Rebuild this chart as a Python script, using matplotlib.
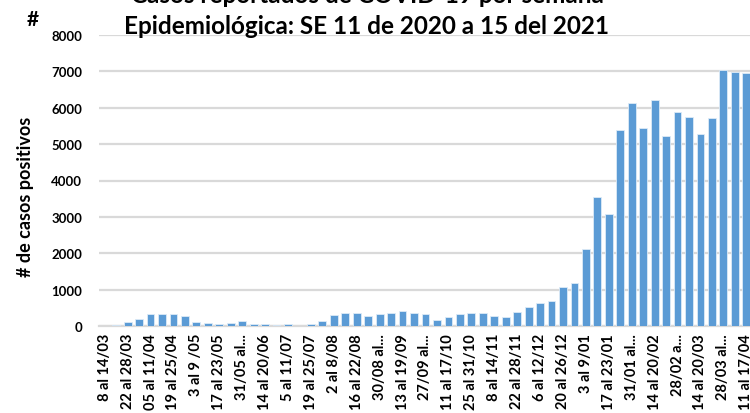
import matplotlib
matplotlib.use("Agg")
from matplotlib import pyplot as plt
import numpy as np

# casos por semana epidemiologica (SE 11 2020 a SE 15 2021)
casos = [5, 30, 100, 180, 340, 330, 320, 265, 100, 90,
         55, 90, 135, 50, 50, 40, 45, 10, 45, 135,
         295, 345, 345, 273, 318, 364, 400, 345, 327, 155,
         236, 336, 345, 345, 282, 236, 373, 536, 625, 690,
         1060, 1188, 2121, 3545, 3083, 5394, 6120, 5431, 6210, 5231,
         5884, 5757, 5267, 5721, 7026, 6972, 6963]

# etiquetas (una cada dos semanas)
etiquetas = ["8 al 14/03", "22 al 28/03", "05 al 11/04", "19 al 25/04",
             "3 al 9 /05", "17 al 23/05", "31/05 al...", "14 al 20/06",
             "5 al 11/07", "19 al 25/07", "2 al 8/08", "16 al 22/08",
             "30/08 al...", "13 al 19/09", "27/09 al...", "11 al 17/10",
             "25 al 31/10", "8 al 14/11", "22 al 28/11", "6 al 12/12",
             "20 al 26/12", "3 al 9/01", "17 al 23/01", "31/01 al...",
             "14 al 20/02", "28/02 a...", "14 al 20/03", "28/03 al...",
             "11 al 17/04"]

plt.rcParams['font.family'] = ['Lato', 'DejaVu Sans']
plt.rcParams['font.weight'] = 'bold'

fig = plt.figure(figsize=(7.5, 4.14), dpi=100)
# el area de trazado se sale un poco por la derecha, como en el original
ax = fig.add_axes([99 / 750, 87 / 414, 653 / 750, 291 / 414])

x = np.arange(len(casos))
ax.bar(x, casos, width=0.68, color="#5B9BD5", edgecolor="#DDEBF7",
       linewidth=0.6, zorder=3)

ax.set_xlim(-0.5, len(casos) - 0.5)
ax.set_ylim(0, 8000)
ax.set_yticks(range(0, 8001, 1000))
ax.yaxis.grid(True, color="#D9D9D9", linewidth=1.6, zorder=0)
ax.set_axisbelow(True)

for s in ["top", "right", "left"]:
    ax.spines[s].set_visible(False)
ax.spines["bottom"].set_color("#D9D9D9")
ax.spines["bottom"].set_linewidth(1.6)

ax.set_xticks(x[::2])
ax.set_xticklabels(etiquetas, rotation=90, fontsize=10.5, fontweight="bold")
ax.tick_params(axis="x", length=0, pad=5)
ax.tick_params(axis="y", length=0, pad=12, labelsize=9.5)

ax.set_ylabel("# de casos positivos", fontsize=13, fontweight="bold")
ax.yaxis.set_label_coords(-(99 - 34) / 653, 0.447)

# la primera linea del titulo queda cortada por el borde superior
fig.text(367 / 750, 1 - 3 / 414, "Casos reportados de COVID-19 por semana",
         ha="center", va="baseline", fontsize=17.5, fontweight="bold")
fig.text(367 / 750, 1 - 34 / 414, "Epidemiológica: SE 11 de 2020 a 15 del 2021",
         ha="center", va="baseline", fontsize=17.5, fontweight="bold")
fig.text(33 / 750, 1 - 20 / 414, "#", ha="center", va="center",
         fontsize=15, fontweight="bold")

plt.savefig("out.png", dpi=100)
plt.close()
